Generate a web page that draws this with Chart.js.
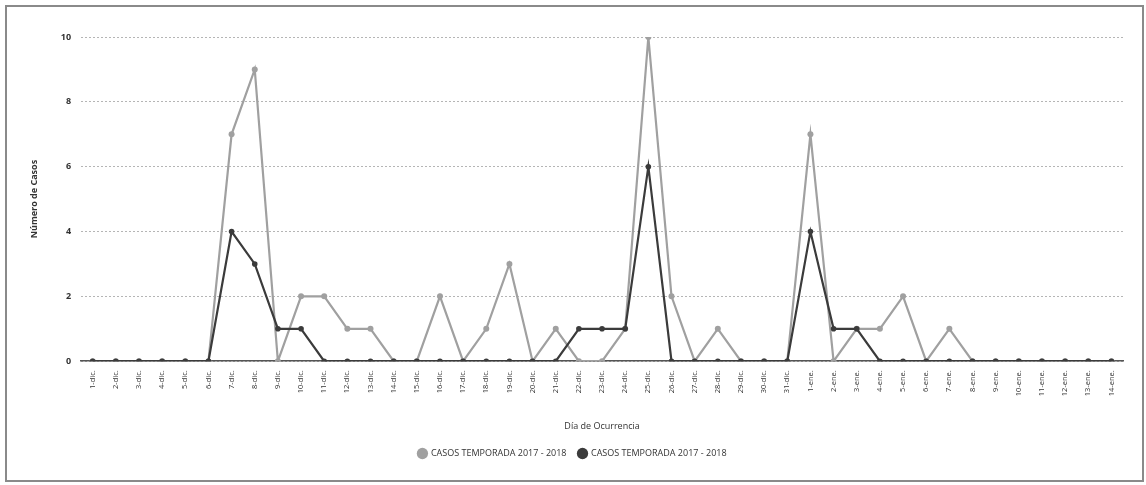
<!DOCTYPE html>
<html>
<head>
<meta charset="utf-8">
<script src="https://cdn.jsdelivr.net/npm/chart.js@4.4.1/dist/chart.umd.min.js"></script>
<style>
  body { margin: 0; background: #fff; }
  #frame { position: absolute; left: 5px; top: 5px; width: 1139px; height: 477px;
           border: 2px solid #8a8a8a; box-sizing: border-box; }
  #wrap { position: absolute; left: 0; top: 0; width: 1146px; height: 485px; }
</style>
</head>
<body>
<div id="frame"></div>
<div id="wrap"><canvas id="chart"></canvas></div>
<script>
let days = [
  "1-dic.", "2-dic.", "3-dic.", "4-dic.", "5-dic.", "6-dic.", "7-dic.", "8-dic.", "9-dic.", "10-dic.",
  "11-dic.", "12-dic.", "13-dic.", "14-dic.", "15-dic.", "16-dic.", "17-dic.", "18-dic.", "19-dic.", "20-dic.",
  "21-dic.", "22-dic.", "23-dic.", "24-dic.", "25-dic.", "26-dic.", "27-dic.", "28-dic.", "29-dic.", "30-dic.",
  "31-dic.", "1-ene.", "2-ene.", "3-ene.", "4-ene.", "5-ene.", "6-ene.", "7-ene.", "8-ene.", "9-ene.",
  "10-ene.", "11-ene.", "12-ene.", "13-ene.", "14-ene."
]

// light grey line
let casosGris = [
  0, 0, 0, 0, 0, 0, 7, 9, 0, 2,
  2, 1, 1, 0, 0, 2, 0, 1, 3, 0,
  1, 0, 0, 1, 10, 2, 0, 1, 0, 0,
  0, 7, 0, 1, 1, 2, 0, 1, 0, 0,
  0, 0, 0, 0, 0
]

// dark line
let casosNegro = [
  0, 0, 0, 0, 0, 0, 4, 3, 1, 1,
  0, 0, 0, 0, 0, 0, 0, 0, 0, 0,
  0, 1, 1, 1, 6, 0, 0, 0, 0, 0,
  0, 4, 1, 1, 0, 0, 0, 0, 0, 0,
  0, 0, 0, 0, 0
]

let serieNombre = "CASOS TEMPORADA 2017 - 2018"
let yTicks = [0, 2, 4, 6, 8, 10]

let fuente = "'Open Sans', 'Liberation Sans', sans-serif"

let ctx = document.getElementById("chart").getContext("2d")
new Chart(ctx, {
  type: "line",
  data: {
    labels: days,
    datasets: [
      {
        label: serieNombre,
        data: casosGris,
        borderColor: "#a0a0a0",
        backgroundColor: "#a0a0a0",
        borderWidth: 2.2,
        pointRadius: 3,
        pointBorderWidth: 0,
        tension: 0,
        order: 1
      },
      {
        label: serieNombre,
        data: casosNegro,
        borderColor: "#3b3b3b",
        backgroundColor: "#3b3b3b",
        borderWidth: 2.2,
        pointRadius: 2.8,
        pointBorderWidth: 0,
        tension: 0,
        order: 0
      }
    ]
  },
  options: {
    responsive: true,
    maintainAspectRatio: false,
    animation: false,
    layout: { padding: { left: 22, right: 23, top: 37, bottom: 17 } },
    plugins: {
      tooltip: { enabled: false },
      legend: {
        position: "bottom",
        reverse: true,
        labels: {
          usePointStyle: true,
          pointStyle: "circle",
          boxWidth: 8,
          boxHeight: 8,
          padding: 12,
          color: "#333",
          font: { family: fuente, size: 9 }
        }
      }
    },
    scales: {
      x: {
        offset: true,
        grid: { display: false, drawTicks: false },
        border: { display: true, color: "#555", width: 1.5 },
        ticks: {
          autoSkip: false,
          minRotation: 90,
          maxRotation: 90,
          padding: 9,
          color: "#333",
          font: { family: fuente, size: 7.5 }
        },
        title: {
          display: true,
          text: "Día de Ocurrencia",
          color: "#333",
          padding: { top: 16, bottom: 5 },
          font: { family: fuente, size: 9 }
        }
      },
      y: {
        min: 0,
        max: 10,
        afterBuildTicks: function (axis) {
          axis.ticks = yTicks.map(v => ({ value: v }))
        },
        grid: {
          color: "#b5b5b5",
          lineWidth: 1,
          drawTicks: false
        },
        border: { display: false, dash: [2, 2] },
        ticks: {
          padding: 10,
          color: "#333",
          font: { family: fuente, size: 9, weight: "bold" }
        },
        title: {
          display: true,
          text: "Número de Casos",
          color: "#333",
          padding: { top: 7, bottom: 11 },
          font: { family: fuente, size: 9, weight: "bold" }
        }
      }
    }
  }
})
</script>
</body>
</html>
